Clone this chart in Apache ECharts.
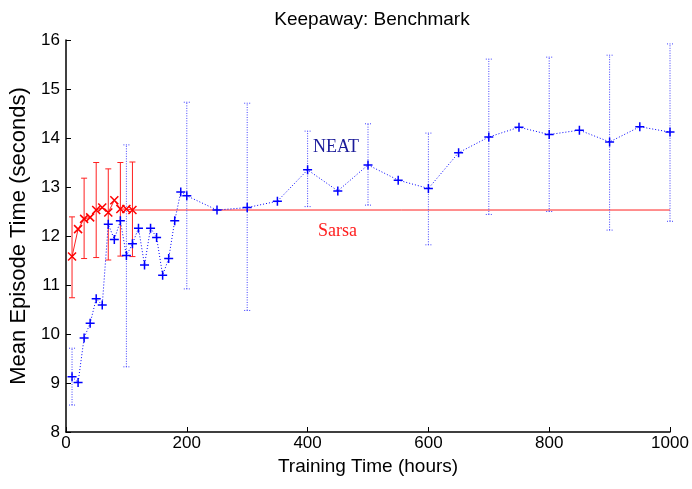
<!DOCTYPE html>
<html>
<head>
<meta charset="UTF-8">
<title>Keepaway: Benchmark</title>
<script src="https://cdn.jsdelivr.net/npm/echarts/dist/echarts.min.js"></script>
<style>
    body { margin: 0; padding: 0; background: #fff; }
    #main { width: 692px; height: 489px; }
</style>
</head>
<body>
<div id="main"></div>
<script type="text/javascript">
    // NEAT mean episode time per training time (hours)
    var neatHours = [10, 20, 30, 40, 50, 60, 70, 80, 90, 100, 110, 120, 130, 140, 150, 160, 170, 180, 190, 200,
                     250, 300, 350, 400, 450, 500, 550, 600, 650, 700, 750, 800, 850, 900, 950, 1000];
    var neatMean = [9.13, 9.01, 9.92, 10.22, 10.72, 10.59, 12.24, 11.93, 12.31, 11.6, 11.84, 12.16, 11.41, 12.16, 11.97, 11.2, 11.54, 12.31, 12.9, 12.82,
                    12.53, 12.58, 12.71, 13.35, 12.92, 13.45, 13.14, 12.97, 13.7, 14.02, 14.22, 14.07, 14.16, 13.92, 14.23, 14.12];
    // NEAT error bars
    var neatErrHours = [10, 100, 200, 300, 400, 500, 600, 700, 800, 900, 1000];
    var neatErrLow = [8.55, 9.33, 10.92, 10.48, 12.6, 12.63, 11.82, 12.44, 12.5, 12.12, 12.3];
    var neatErrHigh = [9.71, 13.86, 14.73, 14.71, 14.14, 14.29, 14.1, 15.61, 15.65, 15.69, 15.92];

    // Sarsa
    var sarsaHours = [10, 20, 30, 40, 50, 60, 70, 80, 90, 100, 110];
    var sarsaMean = [11.58, 12.14, 12.35, 12.38, 12.53, 12.58, 12.48, 12.73, 12.55, 12.55, 12.53];
    var sarsaErrHours = [10, 30, 50, 70, 90, 110];
    var sarsaErrLow = [10.74, 11.54, 11.56, 11.51, 11.59, 11.58];
    var sarsaErrHigh = [12.39, 13.18, 13.5, 13.37, 13.5, 13.51];
    // Sarsa final level, carried on to the end
    var sarsaLevelHours = [110, 1000];
    var sarsaLevel = [12.53, 12.53];

    var xTicks = [0, 200, 400, 600, 800, 1000];

    function zip(a, b, c) {
        return a.map(function (v, i) { return c ? [v, b[i], c[i]] : [v, b[i]]; });
    }

    function errorBars(color, dashed, capHalf) {
        return function (params, api) {
            var x = api.value(0);
            var lo = api.coord([x, api.value(1)]);
            var hi = api.coord([x, api.value(2)]);
            var style = { stroke: color, lineWidth: 1, lineDash: dashed ? [1, 1.5] : null };
            return {
                type: 'group',
                children: [
                    { type: 'line', shape: { x1: lo[0], y1: lo[1], x2: hi[0], y2: hi[1] }, style: style },
                    { type: 'line', shape: { x1: hi[0] - capHalf, y1: hi[1], x2: hi[0] + capHalf, y2: hi[1] }, style: style },
                    { type: 'line', shape: { x1: lo[0] - capHalf, y1: lo[1], x2: lo[0] + capHalf, y2: lo[1] }, style: style }
                ]
            };
        };
    }

    var chart = echarts.init(document.getElementById('main'));
    var font = '"Liberation Sans", Arial, Helvetica, sans-serif';

    var option = {
        backgroundColor: '#fff',
        animation: false,
        title: {
            text: 'Keepaway: Benchmark',
            left: 367,
            top: 5,
            textAlign: 'center',
            textStyle: { fontFamily: font, fontSize: 19, fontWeight: 'normal', color: '#000' }
        },
        grid: { left: 66, right: 22, top: 40, bottom: 57 },
        xAxis: {
            type: 'value',
            min: 0, max: 1000, interval: 200,
            name: 'Training Time (hours)',
            nameLocation: 'middle',
            nameGap: 25,
            nameTextStyle: { fontFamily: font, fontSize: 19, color: '#000' },
            axisLine: { lineStyle: { color: '#000', width: 1.5 } },
            axisTick: { inside: true, length: 5, lineStyle: { color: '#000' } },
            axisLabel: { fontFamily: font, fontSize: 17, color: '#000', margin: 3,
                customValues: xTicks,
                formatter: function (v) { return String(v); } },
            splitLine: { show: false }
        },
        yAxis: {
            type: 'value',
            min: 8, max: 16, interval: 1,
            name: 'Mean Episode Time (seconds)',
            nameLocation: 'middle',
            nameGap: 35,
            nameTextStyle: { fontFamily: font, fontSize: 22, color: '#000' },
            axisLine: { show: true, lineStyle: { color: '#000', width: 1.5 } },
            axisTick: { show: true, inside: true, length: 5, lineStyle: { color: '#000' } },
            axisLabel: { fontFamily: font, fontSize: 17, color: '#000', margin: 6 },
            splitLine: { show: false }
        },
        graphic: [
            { type: 'text', left: 313, top: 138,
              style: { text: 'NEAT', fill: '#1a1a99', font: '18px "Liberation Serif", "Times New Roman", serif' } },
            { type: 'text', left: 318, top: 222,
              style: { text: 'Sarsa', fill: '#ff2020', font: '18px "Liberation Serif", "Times New Roman", serif' } }
        ],
        series: [
            {
                name: 'Sarsa level',
                type: 'line',
                data: zip(sarsaLevelHours, sarsaLevel),
                symbol: 'none',
                lineStyle: { color: '#ff2020', width: 1 },
                z: 2
            },
            {
                name: 'NEAT error',
                type: 'custom',
                renderItem: errorBars('#4040ff', true, 3),
                data: zip(neatErrHours, neatErrLow, neatErrHigh),
                z: 3
            },
            {
                name: 'Sarsa error',
                type: 'custom',
                renderItem: errorBars('#ff2020', false, 3),
                data: zip(sarsaErrHours, sarsaErrLow, sarsaErrHigh),
                z: 4
            },
            {
                name: 'NEAT',
                type: 'line',
                data: zip(neatHours, neatMean),
                symbol: 'path://M5,0L5,10M0,5L10,5',
                symbolSize: 9,
                itemStyle: { color: 'none', borderColor: '#0000ff', borderWidth: 1.5 },
                lineStyle: { color: '#0000ff', width: 1, type: [1, 2] },
                z: 5
            },
            {
                name: 'Sarsa',
                type: 'line',
                data: zip(sarsaHours, sarsaMean),
                symbol: 'path://M0,0L10,10M10,0L0,10',
                symbolSize: 8,
                itemStyle: { color: 'none', borderColor: '#ff0000', borderWidth: 1.5 },
                lineStyle: { color: '#ff2020', width: 1 },
                z: 6
            }
        ]
    };

    chart.setOption(option);
</script>
</body>
</html>
